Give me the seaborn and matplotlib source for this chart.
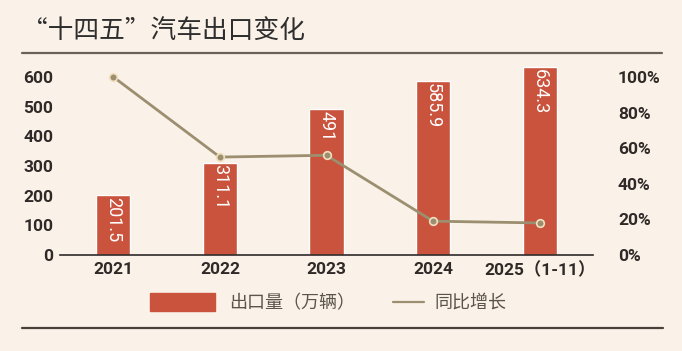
import matplotlib
matplotlib.use('Agg')
import matplotlib.pyplot as plt
import seaborn as sns
import pandas as pd
from matplotlib.lines import Line2D
from matplotlib.patches import Patch

years = ['2021', '2022', '2023', '2024', '2025（1-11）']
exports = [201.5, 311.1, 491, 585.9, 634.3]
growth = [100, 55, 56, 19, 18]

bg = '#faf1e8'
bar_color = '#c9533d'
line_color = '#9c8f6f'
dark = '#2f2a28'

sns.set_theme(style='white')
plt.rcParams['font.family'] = ['Roboto', 'Noto Sans CJK SC', 'DejaVu Sans']

df = pd.DataFrame({'year': years, 'exports': exports, 'growth': growth})

fig = plt.figure(figsize=(6.82, 3.51), dpi=100, facecolor=bg)
ax = fig.add_axes([0.088, 0.2735, 0.7815, 0.5555])
ax.set_facecolor(bg)

sns.barplot(df, x='year', y='exports', color=bar_color, width=0.32,
            saturation=1, ax=ax)
ax.set_xlim(-0.5, 4.5)
ax.set_ylim(0, 657)
ax.set_yticks(range(0, 601, 100))
ax.set_xlabel('')
ax.set_ylabel('')
for s in ['top', 'right', 'left']:
    ax.spines[s].set_visible(False)
ax.spines['bottom'].set_color(dark)
ax.spines['bottom'].set_linewidth(1.2)
ax.tick_params(axis='both', length=0, colors=dark, labelsize=12.5)
ax.tick_params(axis='y', pad=5)
ax.tick_params(axis='x', pad=5)
for lab in ax.get_xticklabels() + ax.get_yticklabels():
    lab.set_fontweight('bold')

for i, v in enumerate(exports):
    ax.text(i, v - 6, f'{v:g}', rotation=270, ha='center', va='top',
            color='white', fontsize=13)

ax2 = ax.twinx()
sns.lineplot(df, x='year', y='growth', sort=False, color=line_color,
             linewidth=2, marker='o', markersize=5.5,
             markerfacecolor=line_color, markeredgecolor='#f2dfc0',
             markeredgewidth=1.2, ax=ax2)
ax2.set_ylim(0, 109.5)
ax2.set_yticks(range(0, 101, 20))
ax2.set_yticklabels([f'{t}%' for t in range(0, 101, 20)])
ax2.set_ylabel('')
ax2.set_xlim(-0.5, 4.5)
for s in ['top', 'right', 'left', 'bottom']:
    ax2.spines[s].set_visible(False)
ax2.tick_params(axis='y', length=0, colors=dark, labelsize=12.5, pad=18)
for lab in ax2.get_yticklabels():
    lab.set_fontweight('bold')

fig.text(0.032, 0.912, '“十四五”汽车出口变化', fontsize=18.5, color='#2e2e2e',
         family=['Noto Sans CJK SC'], va='center', ha='left')
fig.add_artist(Line2D([0.032, 0.971], [0.849, 0.849], color='#6b605a',
                      linewidth=1.6, transform=fig.transFigure))
fig.add_artist(Line2D([0.032, 0.972], [0.066, 0.066], color='#4a3f3a',
                      linewidth=1.6, transform=fig.transFigure))

leg1 = fig.legend(handles=[Patch(color=bar_color, label='出口量（万辆）')],
                  loc='center left', bbox_to_anchor=(0.196, 0.137),
                  frameon=False, handlelength=3.6, handleheight=1.15,
                  handletextpad=0.8, prop={'family': 'Noto Sans CJK SC', 'size': 13})
leg2 = fig.legend(handles=[Line2D([], [], color=line_color, linewidth=1.6, label='同比增长')],
                  loc='center left', bbox_to_anchor=(0.553, 0.137),
                  frameon=False, handlelength=1.7, handletextpad=0.6,
                  prop={'family': 'Noto Sans CJK SC', 'size': 13})
for leg in (leg1, leg2):
    for t in leg.get_texts():
        t.set_color('#5a544d')

fig.savefig('out.png', dpi=100, facecolor=bg)
